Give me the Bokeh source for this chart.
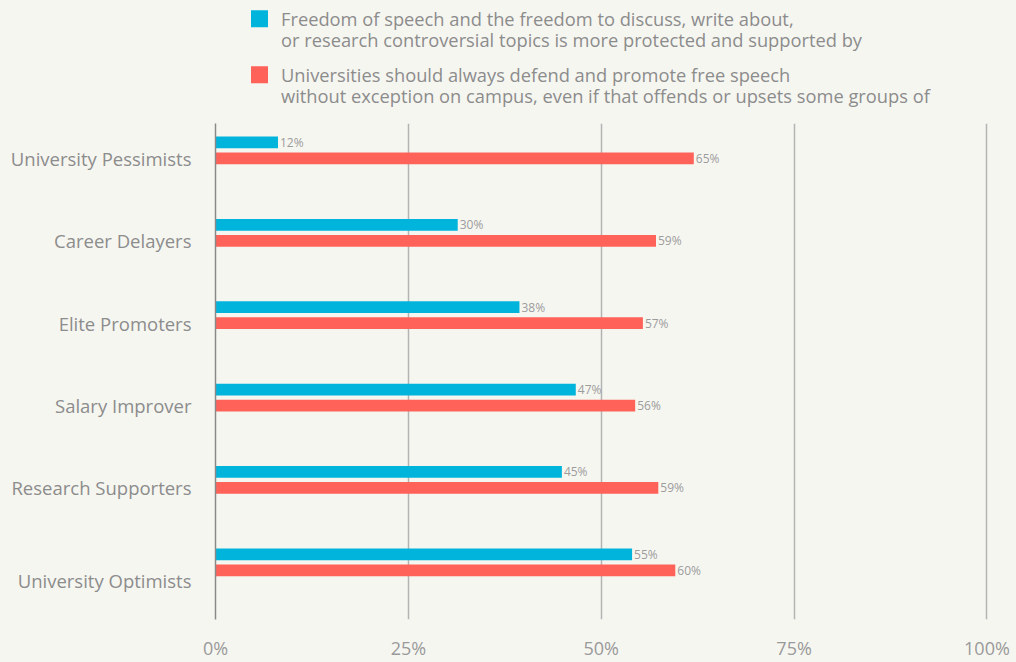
from bokeh.plotting import figure
from bokeh.models import Range1d, FixedTicker, CustomJSTickFormatter, PrintfTickFormatter, ColumnDataSource
from bokeh.layouts import column
from bokeh.core.properties import value
from bokeh.embed import file_html
from bokeh.resources import INLINE

# ---------------- data ----------------
categories = ["University Pessimists", "Career Delayers", "Elite Promoters",
              "Salary Improver", "Research Supporters", "University Optimists"]
series_lines = [
    ["Freedom of speech and the freedom to discuss, write about,",
     "or research controversial topics is more protected and supported by"],
    ["Universities should always defend and promote free speech",
     "without exception on campus, even if that offends or upsets some groups of"],
]
series_colors = ["#00b4dc", "#ff6259"]
blue_values = [8.1, 31.4, 39.4, 46.7, 44.9, 54.0]
red_values = [62.0, 57.1, 55.4, 54.4, 57.4, 59.6]
blue_labels = ["12%", "30%", "38%", "47%", "45%", "55%"]
red_labels = ["65%", "59%", "57%", "56%", "59%", "60%"]
x_ticks = [0, 25, 50, 75, 100]

# ---------------- style / layout ----------------
BG = "#f6f6f1"
FONT = "Open Sans"
TXT = "#8c8c8c"
W = 1016
LEG_H = 123
MAIN_H = 662 - LEG_H
BL, BR = 215, 28           # left / right borders (frame from 215 to 988)
PX = 82.38                 # pixels per category
BLUE_OFF = -16.0 / PX      # blue bar centre relative to category position
BAR_H = 11.7 / PX
TOP = -(157.9 - 123.0) / PX
BORDER_B = 43
FRAME_H = MAIN_H - BORDER_B
BOTTOM = TOP + FRAME_H / PX

# ---------------- legend figure ----------------
leg = figure(width=W, height=LEG_H, x_range=Range1d(BL, W - BR), y_range=Range1d(LEG_H, 0),
             output_backend="svg", toolbar_location=None,
             x_axis_location=None, y_axis_location=None,
             min_border_left=BL, min_border_right=BR, min_border_top=0, min_border_bottom=0,
             styles={"background-color": BG})
leg.grid.visible = False
leg.outline_line_color = None
leg.background_fill_color = BG
leg.border_fill_color = BG

sq_x = [259, 259]
sq_y = [18.3, 74.3]
leg.rect(x=sq_x, y=sq_y, width=17, height=17, fill_color=series_colors, line_color=None)

line_x, line_y, line_t = [], [], []
base_y = [17.5, 73.5]
for k, lines in enumerate(series_lines):
    for j, t in enumerate(lines):
        line_x.append(280.5)
        line_y.append(base_y[k] + 21.8 * j)
        line_t.append(t)
leg.text(x=line_x, y=line_y, text=line_t, text_font=value(FONT), text_font_size="18.3px",
         text_color=TXT, text_baseline="alphabetic", text_align="left")

# ---------------- main figure ----------------
p = figure(width=W, height=MAIN_H, x_range=Range1d(0, 100.2), y_range=Range1d(BOTTOM, TOP),
           output_backend="svg", toolbar_location=None,
           min_border_left=BL, min_border_right=BR, min_border_top=0, min_border_bottom=BORDER_B,
           styles={"background-color": BG})
p.background_fill_color = BG
p.border_fill_color = BG
p.outline_line_color = None

pos = list(range(len(categories)))
blue_y = [i + BLUE_OFF for i in pos]
red_y = list(pos)

src_b = ColumnDataSource(dict(y=blue_y, v=blue_values, lab=blue_labels))
src_r = ColumnDataSource(dict(y=red_y, v=red_values, lab=red_labels))

p.hbar(y="y", left=0, right="v", height=BAR_H, source=src_b, fill_color=series_colors[0], line_color=None)
p.hbar(y="y", left=0, right="v", height=BAR_H, source=src_r, fill_color=series_colors[1], line_color=None)

for s in (src_b, src_r):
    p.text(x="v", y="y", text="lab", source=s, x_offset=2, text_font=value(FONT),
           text_font_size="12px", text_color="#9c9c9c", text_baseline="middle", text_align="left")

# x axis
p.xaxis.ticker = FixedTicker(ticks=x_ticks)
p.xaxis.formatter = PrintfTickFormatter(format="%d%%")
p.xaxis.axis_line_color = None
p.xaxis.major_tick_line_color = None
p.xaxis.minor_tick_line_color = None
p.xaxis.major_label_text_font = FONT
p.xaxis.major_label_text_font_size = "18px"
p.xaxis.major_label_text_color = "#9a9a9a"
p.xaxis.major_label_standoff = 10
p.xgrid.grid_line_color = "#b3b3b3"
p.xgrid.grid_line_width = 1.5
p.ygrid.visible = False

# y axis
tick_pos = [float(i) for i in pos]
tick_pos[-1] = tick_pos[-1] + 10.0 / PX
p.yaxis.ticker = FixedTicker(ticks=tick_pos)
p.yaxis.formatter = CustomJSTickFormatter(args=dict(names=categories), code="return names[index];")
p.yaxis.axis_line_color = "#8a8a8a"
p.yaxis.axis_line_width = 1.5
p.yaxis.major_tick_line_color = None
p.yaxis.minor_tick_line_color = None
p.yaxis.major_label_text_font = FONT
p.yaxis.major_label_text_font_size = "18.5px"
p.yaxis.major_label_text_color = TXT
p.yaxis.major_label_standoff = 18

layout = column(leg, p, spacing=0, styles={"background-color": BG})
open("out.html", "w").write(file_html(layout, INLINE))
